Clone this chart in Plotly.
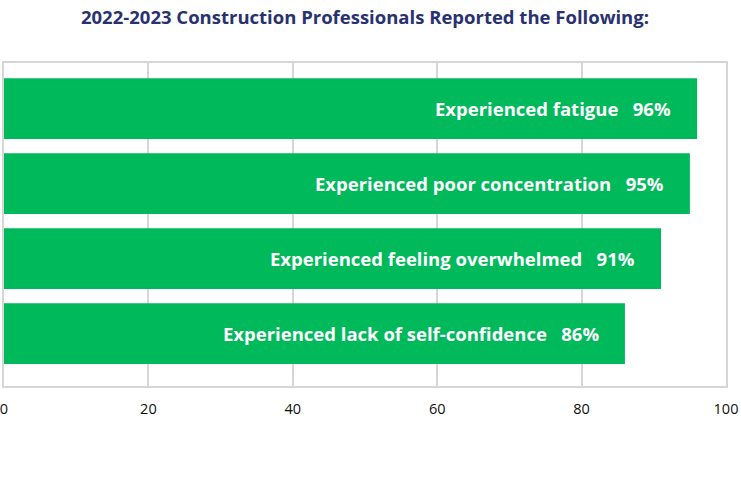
import plotly.graph_objects as go

# Data (bottom to top on the chart)
categories = [
    "Experienced lack of self-confidence",
    "Experienced feeling overwhelmed",
    "Experienced poor concentration",
    "Experienced fatigue",
]
values = [86, 91, 95, 96]
x_ticks = [0, 20, 40, 60, 80, 100]
title_text = "2022-2023 Construction Professionals Reported the Following:"

GREEN = "#00B95B"
NAVY = "#283270"
GRID = "#D6D6D6"
FONT = "Open Sans"

fig = go.Figure()
fig.add_trace(go.Bar(
    x=values,
    y=categories,
    orientation="h",
    marker=dict(color=GREEN, line=dict(width=0)),
    hoverinfo="x+y",
))

for cat, v in zip(categories, values):
    fig.add_annotation(
        x=v, y=cat, xref="x", yref="y",
        text=f"<b>{cat}&nbsp;&nbsp;&nbsp;{v}%</b>",
        showarrow=False, xanchor="right", yanchor="middle",
        xshift=-24,
        font=dict(family=FONT, size=18.5, color="white"),
    )

fig.update_layout(
    width=741, height=486,
    margin=dict(l=4, r=15, t=63, b=100, autoexpand=False),
    paper_bgcolor="white", plot_bgcolor="white",
    bargap=0.19,
    showlegend=False,
    title=dict(
        text=f"<b>{title_text}</b>",
        x=0.5, xanchor="center", xref="paper",
        y=1 - 18 / 486, yanchor="middle", yref="container",
        font=dict(family=FONT, size=18.5, color=NAVY),
    ),
    xaxis=dict(
        range=[0, 100], tickvals=x_ticks,
        showgrid=True, gridcolor=GRID, gridwidth=1.5,
        zeroline=False,
        showline=True, linecolor=GRID, linewidth=2, mirror=True,
        ticks="", ticklen=0,
        tickfont=dict(family=FONT, size=14.5, color="#111111"),
        ticklabelstandoff=9,
        ticklabeloverflow="allow",
        automargin=False,
        fixedrange=True,
    ),
    yaxis=dict(
        range=[-0.7, 3.607],
        showticklabels=False, showgrid=False, zeroline=False,
        showline=True, linecolor=GRID, linewidth=2, mirror=True,
        ticks="",
        automargin=False,
        fixedrange=True,
    ),
)

fig.write_html(
    "out.html",
    config={"displayModeBar": False},
    post_script="document.body.style.margin='0';document.body.style.padding='0';",
)
